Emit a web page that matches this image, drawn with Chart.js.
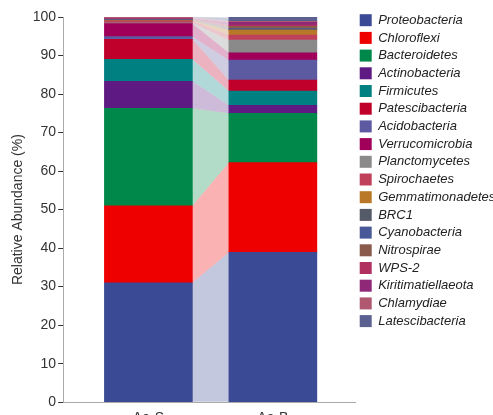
<!DOCTYPE html>
<html>
<head>
<meta charset="utf-8">
<script src="https://cdn.jsdelivr.net/npm/chart.js@4.4.0/dist/chart.umd.min.js"></script>
<style>
    html, body { margin: 0; padding: 0; background: #fff; overflow: hidden; }
    #wrap { position: relative; width: 493px; height: 431px; }
</style>
</head>
<body>
<div id="wrap"><canvas id="abundanceChart"></canvas></div>
<script>
const samples = ['Aa-S', 'Aa-B'];
const phyla = ['Proteobacteria', 'Chloroflexi', 'Bacteroidetes', 'Actinobacteria', 'Firmicutes',
    'Patescibacteria', 'Acidobacteria', 'Verrucomicrobia', 'Planctomycetes', 'Spirochaetes',
    'Gemmatimonadetes', 'BRC1', 'Cyanobacteria', 'Nitrospirae', 'WPS-2', 'Kiritimatiellaeota',
    'Chlamydiae', 'Latescibacteria'];
const aaS = [31.0, 20.0, 25.3, 7.0, 5.7, 5.2, 0.7, 3.4, 0.2, 0.5, 0.1, 0.1, 0.1, 0.1, 0.1, 0.1, 0.3, 0.1];
const aaB = [38.9, 23.3, 12.8, 2.1, 3.7, 2.8, 5.2, 1.9, 3.3, 1.3, 1.3, 0.2, 0.2, 0.6, 0.3, 0.7, 0.3, 1.0];
const phylumColors = ['#3b4a94', '#ee0000', '#00884a', '#5e1a82', '#008080', '#c0002a', '#5c5aa0',
    '#a0005a', '#8a8a8a', '#c0405a', '#b87828', '#555a68', '#485898', '#8a5a4a', '#b03060',
    '#902878', '#b05870', '#5a6090'];

Chart.defaults.font.family = "'Liberation Sans', Arial, sans-serif";

// light bands joining each phylum between the two bars
const flowPlugin = {
    id: 'flows',
    beforeDatasetsDraw(chart) {
        const ctx = chart.ctx;
        ctx.save();
        ctx.globalAlpha = 0.3;
        chart.data.datasets.forEach((ds, i) => {
            const meta = chart.getDatasetMeta(i);
            const a = meta.data[0], b = meta.data[1];
            const x0 = a.x + a.width / 2, x1 = b.x - b.width / 2;
            ctx.beginPath();
            ctx.moveTo(x0, a.y);
            ctx.lineTo(x1, b.y);
            ctx.lineTo(x1, b.base);
            ctx.lineTo(x0, a.base);
            ctx.closePath();
            ctx.fillStyle = ds.backgroundColor;
            ctx.fill();
        });
        ctx.restore();
    }
};

const ctx = document.getElementById('abundanceChart').getContext('2d');
const abundanceChart = new Chart(ctx, {
    type: 'bar',
    data: {
        datasets: phyla.map((name, i) => ({
            label: name,
            data: [{ x: 0, y: aaS[i] }, { x: 1, y: aaB[i] }],
            backgroundColor: phylumColors[i],
            borderWidth: 0,
            barThickness: 88
        }))
    },
    options: {
        responsive: true,
        maintainAspectRatio: false,
        animation: false,
        layout: { padding: { left: 6, top: 9, right: 0, bottom: 4 } },
        plugins: {
            tooltip: { enabled: false },
            legend: {
                position: 'right',
                align: 'start',
                maxWidth: 138,
                labels: {
                    boxWidth: 12,
                    boxHeight: 12,
                    padding: 4.7,
                    color: '#222',
                    font: { size: 13, style: 'italic' }
                }
            }
        },
        scales: {
            x: {
                type: 'linear',
                stacked: true,
                offset: false,
                min: -0.685,
                max: 1.66,
                grid: { display: false },
                border: { color: '#aaa' },
                afterBuildTicks: axis => { axis.ticks = [{ value: 0 }, { value: 1 }]; },
                ticks: {
                    color: '#333',
                    font: { size: 14 },
                    padding: 0,
                    autoSkip: false,
                    maxRotation: 0,
                    callback: v => samples[v]
                }
            },
            y: {
                stacked: true,
                min: 0,
                max: 100,
                border: { color: '#aaa' },
                grid: { drawOnChartArea: false, tickLength: 5, color: '#333' },
                ticks: { stepSize: 10, color: '#333', font: { size: 14 }, padding: 2 },
                afterFit: scale => { scale.paddingTop = 17; },
                title: {
                    display: true,
                    text: 'Relative Abundance (%)',
                    color: '#333',
                    font: { size: 14 }
                }
            }
        }
    },
    plugins: [flowPlugin]
});
</script>
</body>
</html>
